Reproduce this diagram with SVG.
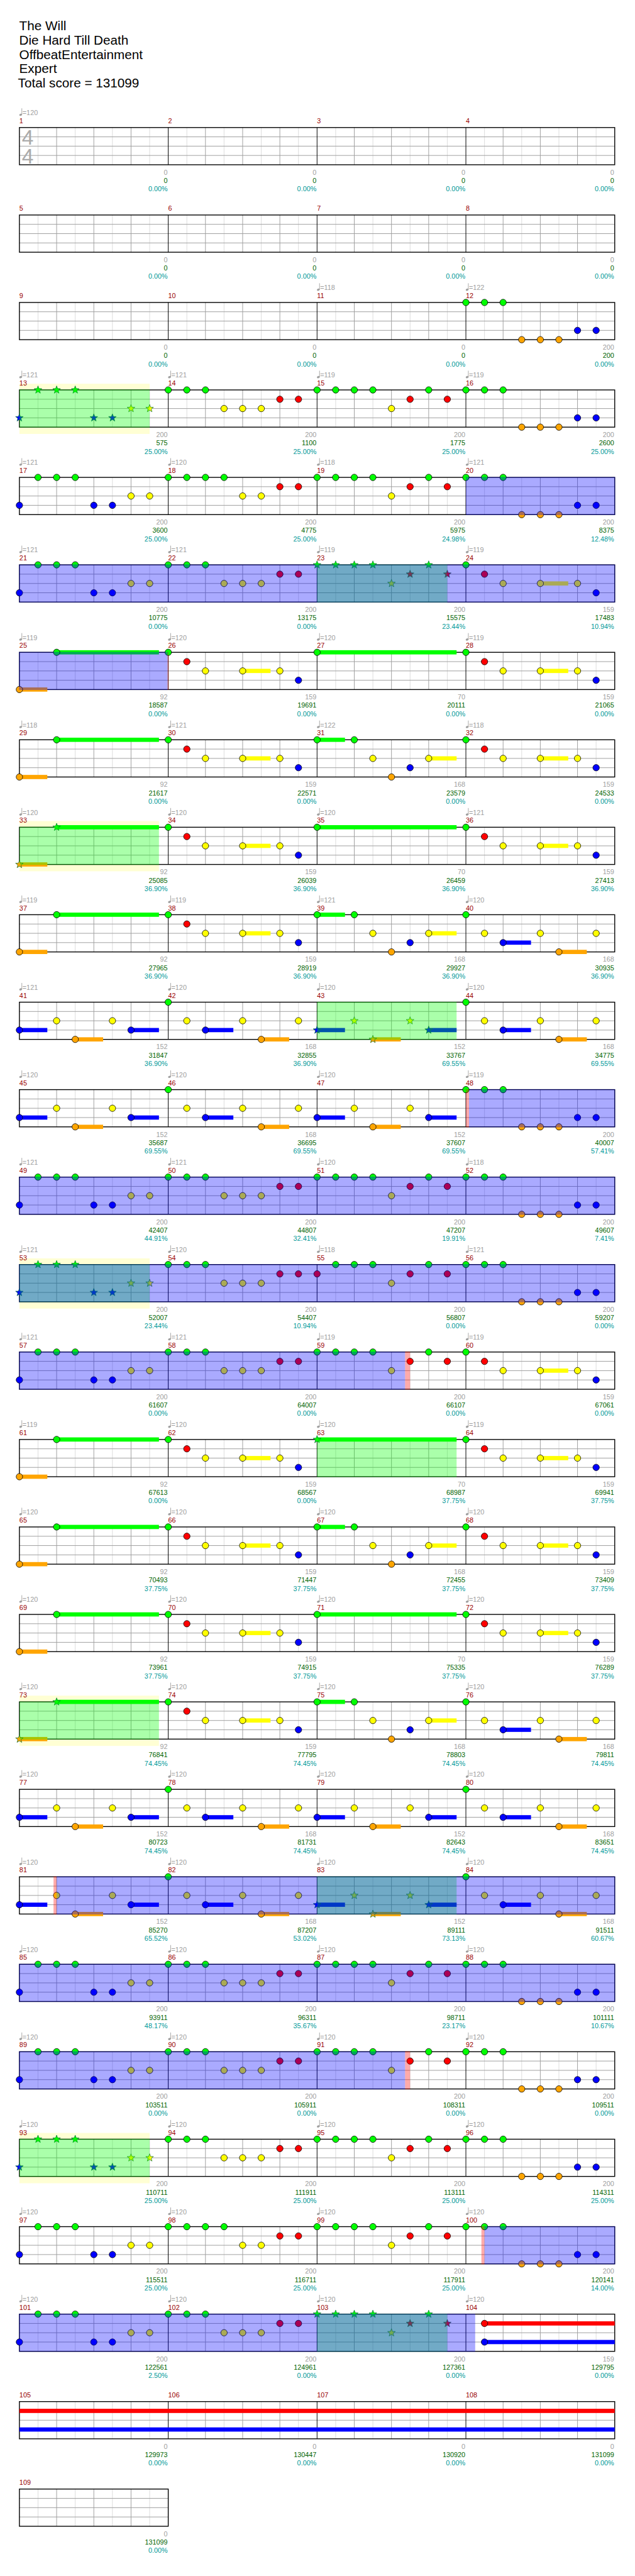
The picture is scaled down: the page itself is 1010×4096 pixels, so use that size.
<svg xmlns="http://www.w3.org/2000/svg" width="1010" height="4096" viewBox="0 0 1010 4096">
<style>
text{font-family:"Liberation Sans",Arial,sans-serif;font-size:11px}
.mn{fill:#990000}
.tp{fill:#a0a0a0}
.s1{fill:#a0a0a0;text-anchor:end}
.s2{fill:#006400;text-anchor:end}
.s3{fill:#009999;text-anchor:end}
.t{font-size:21px;fill:#000}
.ts{font-size:34px;fill:#aaa}
.nt{stroke:#000;stroke-width:.8}
.st{stroke:#063;stroke-width:.7}
.sg{fill:#0f0}.sr{fill:#f00}.sy{fill:#ff0}.sb{fill:#00f}.so{fill:#ffa500}
.ob{fill:#00f;fill-opacity:.333}
.og{fill:#0f0;fill-opacity:.333}
.yb{fill:#ffffd4}
.pk{fill:#f00;fill-opacity:.333}
</style>
<defs>
<g id="grid">
<rect width="960" height="60" fill="#fff"/>
<path d="M30 0V60M90 0V60M150 0V60M210 0V60M270 0V60M330 0V60M390 0V60M450 0V60M510 0V60M570 0V60M630 0V60M690 0V60M750 0V60M810 0V60M870 0V60M930 0V60" stroke="#dcdcdc"/>
<path d="M60 0V60M120 0V60M180 0V60M300 0V60M360 0V60M420 0V60M540 0V60M600 0V60M660 0V60M780 0V60M840 0V60M900 0V60M0 15H960M0 30H960M0 45H960" stroke="#a0a0a0"/>
<path d="M240 0V60M480 0V60M720 0V60" stroke="#000"/>
<rect width="960" height="60" fill="none" stroke="#000" stroke-width="1.4"/>
</g>
<g id="grid1">
<rect width="240" height="60" fill="#fff"/>
<path d="M30 0V60M90 0V60M150 0V60M210 0V60" stroke="#dcdcdc"/>
<path d="M60 0V60M120 0V60M180 0V60M0 15H240M0 30H240M0 45H240" stroke="#a0a0a0"/>
<rect width="240" height="60" fill="none" stroke="#000" stroke-width="1.4"/>
</g>
<g id="tq" fill="#a0a0a0"><ellipse cx="2" cy="-20.6" rx="2.3" ry="1.7" transform="rotate(-20 2 -20.6)"/><rect x="3.5" y="-31" width="0.9" height="10.4"/></g>
<circle id="G" r="5.2" class="nt" fill="#0f0"/>
<circle id="R" cy="15" r="5.2" class="nt" fill="#f00"/>
<circle id="Y" cy="30" r="5.2" class="nt" fill="#ff0"/>
<circle id="B" cy="45" r="5.2" class="nt" fill="#00f"/>
<circle id="O" cy="60" r="5.2" class="nt" fill="#ffa500"/>
<polygon id="SG" class="st" fill="#0f0" points="0,-6.5 1.6,-2.2 6.2,-2 2.6,0.85 3.8,5.3 0,2.75 -3.8,5.3 -2.6,0.85 -6.2,-2 -1.6,-2.2"/>
<polygon id="SR" class="st" fill="#f00" transform="translate(0,15)" points="0,-6.5 1.6,-2.2 6.2,-2 2.6,0.85 3.8,5.3 0,2.75 -3.8,5.3 -2.6,0.85 -6.2,-2 -1.6,-2.2"/>
<polygon id="SY" class="st" fill="#ff0" transform="translate(0,30)" points="0,-6.5 1.6,-2.2 6.2,-2 2.6,0.85 3.8,5.3 0,2.75 -3.8,5.3 -2.6,0.85 -6.2,-2 -1.6,-2.2"/>
<polygon id="SB" class="st" fill="#00f" transform="translate(0,45)" points="0,-6.5 1.6,-2.2 6.2,-2 2.6,0.85 3.8,5.3 0,2.75 -3.8,5.3 -2.6,0.85 -6.2,-2 -1.6,-2.2"/>
<polygon id="SO" class="st" fill="#ffa500" transform="translate(0,60)" points="0,-6.5 1.6,-2.2 6.2,-2 2.6,0.85 3.8,5.3 0,2.75 -3.8,5.3 -2.6,0.85 -6.2,-2 -1.6,-2.2"/>
<g id="P1"><use href="#B"/><use href="#G" x="30"/><use href="#G" x="60"/><use href="#G" x="90"/><use href="#B" x="120"/><use href="#B" x="150"/><use href="#Y" x="180"/><use href="#Y" x="210"/></g>
<g id="P1s"><use href="#SB"/><use href="#SG" x="30"/><use href="#SG" x="60"/><use href="#SG" x="90"/><use href="#SB" x="120"/><use href="#SB" x="150"/><use href="#SY" x="180"/><use href="#SY" x="210"/></g>
<g id="M2a"><use href="#G"/><use href="#G" x="30"/><use href="#G" x="60"/><use href="#Y" x="90"/><use href="#Y" x="120"/><use href="#Y" x="150"/><use href="#R" x="180"/><use href="#R" x="210"/></g>
<g id="M2b"><use href="#G"/><use href="#G" x="30"/><use href="#G" x="60"/><use href="#G" x="90"/><use href="#Y" x="120"/><use href="#Y" x="150"/><use href="#R" x="180"/><use href="#R" x="210"/></g>
<g id="M3"><use href="#G"/><use href="#G" x="30"/><use href="#G" x="60"/><use href="#G" x="90"/><use href="#Y" x="120"/><use href="#R" x="150"/><use href="#G" x="180"/><use href="#R" x="210"/></g>
<g id="M3s"><use href="#SG"/><use href="#SG" x="30"/><use href="#SG" x="60"/><use href="#SG" x="90"/><use href="#SY" x="120"/><use href="#SR" x="150"/><use href="#SG" x="180"/><use href="#SR" x="210"/></g>
<g id="M3r"><use href="#R"/><use href="#G" x="30"/><use href="#G" x="60"/><use href="#G" x="90"/><use href="#Y" x="120"/><use href="#R" x="150"/><use href="#G" x="180"/><use href="#R" x="210"/></g>
<g id="M4"><use href="#G"/><use href="#G" x="30"/><use href="#G" x="60"/><use href="#O" x="90"/><use href="#O" x="120"/><use href="#O" x="150"/><use href="#B" x="180"/><use href="#B" x="210"/></g>
<g id="K1"><rect class="so" x="0" y="56.6" width="45" height="6.8"/><rect class="sg" x="60" y="-3.4" width="165" height="6.8"/><use href="#O"/><use href="#G" x="60"/></g>
<g id="K1s"><rect class="so" x="0" y="56.6" width="45" height="6.8"/><rect class="sg" x="60" y="-3.4" width="165" height="6.8"/><use href="#SO"/><use href="#SG" x="60"/></g>
<g id="K2"><rect class="sy" x="120" y="26.6" width="45" height="6.8"/><use href="#G"/><use href="#R" x="30"/><use href="#Y" x="60"/><use href="#Y" x="120"/><use href="#Y" x="180"/><use href="#B" x="210"/></g>
<g id="K3"><rect class="sg" x="0" y="-3.4" width="225" height="6.8"/><use href="#G"/></g>
<g id="K3s"><rect class="sg" x="0" y="-3.4" width="225" height="6.8"/><use href="#SG"/></g>
<g id="K4"><rect class="sg" x="0" y="-3.4" width="45" height="6.8"/><rect class="sy" x="180" y="26.6" width="45" height="6.8"/><use href="#G"/><use href="#G" x="60"/><use href="#Y" x="90"/><use href="#O" x="120"/><use href="#B" x="150"/><use href="#Y" x="180"/></g>
<g id="K5"><rect class="sb" x="60" y="41.6" width="45" height="6.8"/><rect class="so" x="150" y="56.6" width="45" height="6.8"/><use href="#G"/><use href="#Y" x="30"/><use href="#B" x="60"/><use href="#Y" x="120"/><use href="#O" x="150"/><use href="#Y" x="210"/></g>
<g id="L1"><rect class="sb" x="0" y="41.6" width="45" height="6.8"/><rect class="so" x="90" y="56.6" width="45" height="6.8"/><rect class="sb" x="180" y="41.6" width="45" height="6.8"/><use href="#B"/><use href="#Y" x="60"/><use href="#O" x="90"/><use href="#Y" x="150"/><use href="#B" x="180"/></g>
<g id="L1s"><rect class="sb" x="0" y="41.6" width="45" height="6.8"/><rect class="so" x="90" y="56.6" width="45" height="6.8"/><rect class="sb" x="180" y="41.6" width="45" height="6.8"/><use href="#SB"/><use href="#SY" x="60"/><use href="#SO" x="90"/><use href="#SY" x="150"/><use href="#SB" x="180"/></g>
</defs>
<rect width="1010" height="4096" fill="#fff"/>
<g transform="scale(0.98633)">
<g id="title">
<text class="t" x="31" y="49">The Will</text>
<text class="t" x="31" y="72">Die Hard Till Death</text>
<text class="t" x="31" y="95">OffbeatEntertainment</text>
<text class="t" x="31" y="118">Expert</text>
<text class="t" x="29" y="141">Total score = 131099</text>
</g>

<g id="row1" transform="translate(31.3,205.6)">
<use href="#grid"/>
<text class="ts" x="4" y="27.7">4</text><text class="ts" x="4" y="57.7">4</text>
<use href="#tq"/><text class="tp" x="5" y="-20">=120</text>
<text class="mn" x="0" y="-7">1</text><text class="mn" x="240" y="-7">2</text><text class="mn" x="480" y="-7">3</text><text class="mn" x="720" y="-7">4</text>
<text class="s1" x="239" y="76">0</text><text class="s2" x="239" y="89.5">0</text><text class="s3" x="239" y="103">0.00%</text>
<text class="s1" x="479" y="76">0</text><text class="s2" x="479" y="89.5">0</text><text class="s3" x="479" y="103">0.00%</text>
<text class="s1" x="719" y="76">0</text><text class="s2" x="719" y="89.5">0</text><text class="s3" x="719" y="103">0.00%</text>
<text class="s1" x="959" y="76">0</text><text class="s2" x="959" y="89.5">0</text><text class="s3" x="959" y="103">0.00%</text>
</g>

<g id="row2" transform="translate(31.3,346.6)">
<use href="#grid"/>
<text class="mn" x="0" y="-7">5</text><text class="mn" x="240" y="-7">6</text><text class="mn" x="480" y="-7">7</text><text class="mn" x="720" y="-7">8</text>
<text class="s1" x="239" y="76">0</text><text class="s2" x="239" y="89.5">0</text><text class="s3" x="239" y="103">0.00%</text>
<text class="s1" x="479" y="76">0</text><text class="s2" x="479" y="89.5">0</text><text class="s3" x="479" y="103">0.00%</text>
<text class="s1" x="719" y="76">0</text><text class="s2" x="719" y="89.5">0</text><text class="s3" x="719" y="103">0.00%</text>
<text class="s1" x="959" y="76">0</text><text class="s2" x="959" y="89.5">0</text><text class="s3" x="959" y="103">0.00%</text>
</g>

<g id="row3" transform="translate(31.3,487.6)">
<use href="#grid"/>
<use href="#M4" x="720"/>
<use href="#tq" x="480"/><text class="tp" x="485" y="-20">=118</text>
<use href="#tq" x="720"/><text class="tp" x="725" y="-20">=122</text>
<text class="mn" x="0" y="-7">9</text><text class="mn" x="240" y="-7">10</text><text class="mn" x="480" y="-7">11</text><text class="mn" x="720" y="-7">12</text>
<text class="s1" x="239" y="76">0</text><text class="s2" x="239" y="89.5">0</text><text class="s3" x="239" y="103">0.00%</text>
<text class="s1" x="479" y="76">0</text><text class="s2" x="479" y="89.5">0</text><text class="s3" x="479" y="103">0.00%</text>
<text class="s1" x="719" y="76">0</text><text class="s2" x="719" y="89.5">0</text><text class="s3" x="719" y="103">0.00%</text>
<text class="s1" x="959" y="76">200</text><text class="s2" x="959" y="89.5">200</text><text class="s3" x="959" y="103">0.00%</text>
</g>

<g id="row4" transform="translate(31.3,628.6)">
<rect class="yb" x="0" y="-10" width="210" height="81"/>
<use href="#grid"/>
<use href="#P1s"/><use href="#M2a" x="240"/><use href="#M3" x="480"/><use href="#M4" x="720"/>
<rect class="og" x="0" y="-0.7" width="210" height="61.4"/>
<use href="#tq"/><text class="tp" x="5" y="-20">=121</text>
<use href="#tq" x="240"/><text class="tp" x="245" y="-20">=121</text>
<use href="#tq" x="480"/><text class="tp" x="485" y="-20">=119</text>
<use href="#tq" x="720"/><text class="tp" x="725" y="-20">=119</text>
<text class="mn" x="0" y="-7">13</text><text class="mn" x="240" y="-7">14</text><text class="mn" x="480" y="-7">15</text><text class="mn" x="720" y="-7">16</text>
<text class="s1" x="239" y="76">200</text><text class="s2" x="239" y="89.5">575</text><text class="s3" x="239" y="103">25.00%</text>
<text class="s1" x="479" y="76">200</text><text class="s2" x="479" y="89.5">1100</text><text class="s3" x="479" y="103">25.00%</text>
<text class="s1" x="719" y="76">200</text><text class="s2" x="719" y="89.5">1775</text><text class="s3" x="719" y="103">25.00%</text>
<text class="s1" x="959" y="76">200</text><text class="s2" x="959" y="89.5">2600</text><text class="s3" x="959" y="103">25.00%</text>
</g>

<g id="row5" transform="translate(31.3,769.6)">
<use href="#grid"/>
<use href="#P1"/><use href="#M2b" x="240"/><use href="#M3" x="480"/><use href="#M4" x="720"/>
<rect class="ob" x="720" y="-0.7" width="240.7" height="61.4"/>
<use href="#tq"/><text class="tp" x="5" y="-20">=121</text>
<use href="#tq" x="240"/><text class="tp" x="245" y="-20">=120</text>
<use href="#tq" x="480"/><text class="tp" x="485" y="-20">=118</text>
<use href="#tq" x="720"/><text class="tp" x="725" y="-20">=121</text>
<text class="mn" x="0" y="-7">17</text><text class="mn" x="240" y="-7">18</text><text class="mn" x="480" y="-7">19</text><text class="mn" x="720" y="-7">20</text>
<text class="s1" x="239" y="76">200</text><text class="s2" x="239" y="89.5">3600</text><text class="s3" x="239" y="103">25.00%</text>
<text class="s1" x="479" y="76">200</text><text class="s2" x="479" y="89.5">4775</text><text class="s3" x="479" y="103">25.00%</text>
<text class="s1" x="719" y="76">200</text><text class="s2" x="719" y="89.5">5975</text><text class="s3" x="719" y="103">24.98%</text>
<text class="s1" x="959" y="76">200</text><text class="s2" x="959" y="89.5">8375</text><text class="s3" x="959" y="103">12.48%</text>
</g>

<g id="row6" transform="translate(31.3,910.6)">
<use href="#grid"/>
<use href="#P1"/><use href="#M2a" x="240"/><use href="#M3s" x="480"/><use href="#K2" x="720"/>
<rect class="og" x="480" y="-0.7" width="210" height="61.4"/>
<rect class="ob" x="-0.7" y="-0.7" width="961.4" height="61.4"/>
<use href="#tq"/><text class="tp" x="5" y="-20">=121</text>
<use href="#tq" x="240"/><text class="tp" x="245" y="-20">=121</text>
<use href="#tq" x="480"/><text class="tp" x="485" y="-20">=119</text>
<use href="#tq" x="720"/><text class="tp" x="725" y="-20">=119</text>
<text class="mn" x="0" y="-7">21</text><text class="mn" x="240" y="-7">22</text><text class="mn" x="480" y="-7">23</text><text class="mn" x="720" y="-7">24</text>
<text class="s1" x="239" y="76">200</text><text class="s2" x="239" y="89.5">10775</text><text class="s3" x="239" y="103">0.00%</text>
<text class="s1" x="479" y="76">200</text><text class="s2" x="479" y="89.5">13175</text><text class="s3" x="479" y="103">0.00%</text>
<text class="s1" x="719" y="76">200</text><text class="s2" x="719" y="89.5">15575</text><text class="s3" x="719" y="103">23.44%</text>
<text class="s1" x="959" y="76">159</text><text class="s2" x="959" y="89.5">17483</text><text class="s3" x="959" y="103">10.94%</text>
</g>

<g id="row7" transform="translate(31.3,1051.6)">
<use href="#grid"/>
<use href="#K1"/><use href="#K2" x="240"/><use href="#K3" x="480"/><use href="#K2" x="720"/>
<rect class="ob" x="-0.7" y="-0.7" width="239.7" height="61.4"/>
<rect class="pk" x="239" y="-0.7" width="1.5" height="61.4"/>
<use href="#tq"/><text class="tp" x="5" y="-20">=119</text>
<use href="#tq" x="240"/><text class="tp" x="245" y="-20">=120</text>
<use href="#tq" x="480"/><text class="tp" x="485" y="-20">=120</text>
<use href="#tq" x="720"/><text class="tp" x="725" y="-20">=119</text>
<text class="mn" x="0" y="-7">25</text><text class="mn" x="240" y="-7">26</text><text class="mn" x="480" y="-7">27</text><text class="mn" x="720" y="-7">28</text>
<text class="s1" x="239" y="76">92</text><text class="s2" x="239" y="89.5">18587</text><text class="s3" x="239" y="103">0.00%</text>
<text class="s1" x="479" y="76">159</text><text class="s2" x="479" y="89.5">19691</text><text class="s3" x="479" y="103">0.00%</text>
<text class="s1" x="719" y="76">70</text><text class="s2" x="719" y="89.5">20111</text><text class="s3" x="719" y="103">0.00%</text>
<text class="s1" x="959" y="76">159</text><text class="s2" x="959" y="89.5">21065</text><text class="s3" x="959" y="103">0.00%</text>
</g>

<g id="row8" transform="translate(31.3,1192.6)">
<use href="#grid"/>
<use href="#K1"/><use href="#K2" x="240"/><use href="#K4" x="480"/><use href="#K2" x="720"/>
<use href="#tq"/><text class="tp" x="5" y="-20">=118</text>
<use href="#tq" x="240"/><text class="tp" x="245" y="-20">=121</text>
<use href="#tq" x="480"/><text class="tp" x="485" y="-20">=122</text>
<use href="#tq" x="720"/><text class="tp" x="725" y="-20">=118</text>
<text class="mn" x="0" y="-7">29</text><text class="mn" x="240" y="-7">30</text><text class="mn" x="480" y="-7">31</text><text class="mn" x="720" y="-7">32</text>
<text class="s1" x="239" y="76">92</text><text class="s2" x="239" y="89.5">21617</text><text class="s3" x="239" y="103">0.00%</text>
<text class="s1" x="479" y="76">159</text><text class="s2" x="479" y="89.5">22571</text><text class="s3" x="479" y="103">0.00%</text>
<text class="s1" x="719" y="76">168</text><text class="s2" x="719" y="89.5">23579</text><text class="s3" x="719" y="103">0.00%</text>
<text class="s1" x="959" y="76">159</text><text class="s2" x="959" y="89.5">24533</text><text class="s3" x="959" y="103">0.00%</text>
</g>

<g id="row9" transform="translate(31.3,1333.6)">
<rect class="yb" x="0" y="-10" width="225" height="81"/>
<use href="#grid"/>
<use href="#K1s"/><use href="#K2" x="240"/><use href="#K3" x="480"/><use href="#K2" x="720"/>
<rect class="og" x="0" y="-0.7" width="225" height="61.4"/>
<use href="#tq"/><text class="tp" x="5" y="-20">=120</text>
<use href="#tq" x="240"/><text class="tp" x="245" y="-20">=120</text>
<use href="#tq" x="480"/><text class="tp" x="485" y="-20">=120</text>
<use href="#tq" x="720"/><text class="tp" x="725" y="-20">=121</text>
<text class="mn" x="0" y="-7">33</text><text class="mn" x="240" y="-7">34</text><text class="mn" x="480" y="-7">35</text><text class="mn" x="720" y="-7">36</text>
<text class="s1" x="239" y="76">92</text><text class="s2" x="239" y="89.5">25085</text><text class="s3" x="239" y="103">36.90%</text>
<text class="s1" x="479" y="76">159</text><text class="s2" x="479" y="89.5">26039</text><text class="s3" x="479" y="103">36.90%</text>
<text class="s1" x="719" y="76">70</text><text class="s2" x="719" y="89.5">26459</text><text class="s3" x="719" y="103">36.90%</text>
<text class="s1" x="959" y="76">159</text><text class="s2" x="959" y="89.5">27413</text><text class="s3" x="959" y="103">36.90%</text>
</g>

<g id="row10" transform="translate(31.3,1474.6)">
<use href="#grid"/>
<use href="#K1"/><use href="#K2" x="240"/><use href="#K4" x="480"/><use href="#K5" x="720"/>
<use href="#tq"/><text class="tp" x="5" y="-20">=119</text>
<use href="#tq" x="240"/><text class="tp" x="245" y="-20">=119</text>
<use href="#tq" x="480"/><text class="tp" x="485" y="-20">=121</text>
<use href="#tq" x="720"/><text class="tp" x="725" y="-20">=120</text>
<text class="mn" x="0" y="-7">37</text><text class="mn" x="240" y="-7">38</text><text class="mn" x="480" y="-7">39</text><text class="mn" x="720" y="-7">40</text>
<text class="s1" x="239" y="76">92</text><text class="s2" x="239" y="89.5">27965</text><text class="s3" x="239" y="103">36.90%</text>
<text class="s1" x="479" y="76">159</text><text class="s2" x="479" y="89.5">28919</text><text class="s3" x="479" y="103">36.90%</text>
<text class="s1" x="719" y="76">168</text><text class="s2" x="719" y="89.5">29927</text><text class="s3" x="719" y="103">36.90%</text>
<text class="s1" x="959" y="76">168</text><text class="s2" x="959" y="89.5">30935</text><text class="s3" x="959" y="103">36.90%</text>
</g>

<g id="row11" transform="translate(31.3,1615.6)">
<use href="#grid"/>
<use href="#L1"/><use href="#K5" x="240"/><use href="#L1s" x="480"/><use href="#K5" x="720"/>
<rect class="og" x="480" y="-0.7" width="225" height="61.4"/>
<use href="#tq"/><text class="tp" x="5" y="-20">=121</text>
<use href="#tq" x="240"/><text class="tp" x="245" y="-20">=120</text>
<use href="#tq" x="480"/><text class="tp" x="485" y="-20">=120</text>
<use href="#tq" x="720"/><text class="tp" x="725" y="-20">=120</text>
<text class="mn" x="0" y="-7">41</text><text class="mn" x="240" y="-7">42</text><text class="mn" x="480" y="-7">43</text><text class="mn" x="720" y="-7">44</text>
<text class="s1" x="239" y="76">152</text><text class="s2" x="239" y="89.5">31847</text><text class="s3" x="239" y="103">36.90%</text>
<text class="s1" x="479" y="76">168</text><text class="s2" x="479" y="89.5">32855</text><text class="s3" x="479" y="103">36.90%</text>
<text class="s1" x="719" y="76">152</text><text class="s2" x="719" y="89.5">33767</text><text class="s3" x="719" y="103">69.55%</text>
<text class="s1" x="959" y="76">168</text><text class="s2" x="959" y="89.5">34775</text><text class="s3" x="959" y="103">69.55%</text>
</g>

<g id="row12" transform="translate(31.3,1756.6)">
<use href="#grid"/>
<use href="#L1"/><use href="#K5" x="240"/><use href="#L1" x="480"/><use href="#M4" x="720"/>
<rect class="pk" x="720" y="-0.7" width="5" height="61.4"/>
<rect class="ob" x="725" y="-0.7" width="235.7" height="61.4"/>
<use href="#tq"/><text class="tp" x="5" y="-20">=120</text>
<use href="#tq" x="240"/><text class="tp" x="245" y="-20">=120</text>
<use href="#tq" x="480"/><text class="tp" x="485" y="-20">=120</text>
<use href="#tq" x="720"/><text class="tp" x="725" y="-20">=119</text>
<text class="mn" x="0" y="-7">45</text><text class="mn" x="240" y="-7">46</text><text class="mn" x="480" y="-7">47</text><text class="mn" x="720" y="-7">48</text>
<text class="s1" x="239" y="76">152</text><text class="s2" x="239" y="89.5">35687</text><text class="s3" x="239" y="103">69.55%</text>
<text class="s1" x="479" y="76">168</text><text class="s2" x="479" y="89.5">36695</text><text class="s3" x="479" y="103">69.55%</text>
<text class="s1" x="719" y="76">152</text><text class="s2" x="719" y="89.5">37607</text><text class="s3" x="719" y="103">69.55%</text>
<text class="s1" x="959" y="76">200</text><text class="s2" x="959" y="89.5">40007</text><text class="s3" x="959" y="103">57.41%</text>
</g>

<g id="row13" transform="translate(31.3,1897.6)">
<use href="#grid"/>
<use href="#P1"/><use href="#M2a" x="240"/><use href="#M3" x="480"/><use href="#M4" x="720"/>
<rect class="ob" x="-0.7" y="-0.7" width="961.4" height="61.4"/>
<use href="#tq"/><text class="tp" x="5" y="-20">=121</text>
<use href="#tq" x="240"/><text class="tp" x="245" y="-20">=121</text>
<use href="#tq" x="480"/><text class="tp" x="485" y="-20">=120</text>
<use href="#tq" x="720"/><text class="tp" x="725" y="-20">=118</text>
<text class="mn" x="0" y="-7">49</text><text class="mn" x="240" y="-7">50</text><text class="mn" x="480" y="-7">51</text><text class="mn" x="720" y="-7">52</text>
<text class="s1" x="239" y="76">200</text><text class="s2" x="239" y="89.5">42407</text><text class="s3" x="239" y="103">44.91%</text>
<text class="s1" x="479" y="76">200</text><text class="s2" x="479" y="89.5">44807</text><text class="s3" x="479" y="103">32.41%</text>
<text class="s1" x="719" y="76">200</text><text class="s2" x="719" y="89.5">47207</text><text class="s3" x="719" y="103">19.91%</text>
<text class="s1" x="959" y="76">200</text><text class="s2" x="959" y="89.5">49607</text><text class="s3" x="959" y="103">7.41%</text>
</g>

<g id="row14" transform="translate(31.3,2038.6)">
<rect class="yb" x="0" y="-10" width="210" height="81"/>
<use href="#grid"/>
<use href="#P1s"/><use href="#M2a" x="240"/><use href="#M3r" x="480"/><use href="#M4" x="720"/>
<rect class="og" x="0" y="-0.7" width="210" height="61.4"/>
<rect class="ob" x="-0.7" y="-0.7" width="961.4" height="61.4"/>
<use href="#tq"/><text class="tp" x="5" y="-20">=121</text>
<use href="#tq" x="240"/><text class="tp" x="245" y="-20">=120</text>
<use href="#tq" x="480"/><text class="tp" x="485" y="-20">=118</text>
<use href="#tq" x="720"/><text class="tp" x="725" y="-20">=121</text>
<text class="mn" x="0" y="-7">53</text><text class="mn" x="240" y="-7">54</text><text class="mn" x="480" y="-7">55</text><text class="mn" x="720" y="-7">56</text>
<text class="s1" x="239" y="76">200</text><text class="s2" x="239" y="89.5">52007</text><text class="s3" x="239" y="103">23.44%</text>
<text class="s1" x="479" y="76">200</text><text class="s2" x="479" y="89.5">54407</text><text class="s3" x="479" y="103">10.94%</text>
<text class="s1" x="719" y="76">200</text><text class="s2" x="719" y="89.5">56807</text><text class="s3" x="719" y="103">0.00%</text>
<text class="s1" x="959" y="76">200</text><text class="s2" x="959" y="89.5">59207</text><text class="s3" x="959" y="103">0.00%</text>
</g>

<g id="row15" transform="translate(31.3,2179.6)">
<use href="#grid"/>
<use href="#P1"/><use href="#M2a" x="240"/><use href="#M3" x="480"/><use href="#K2" x="720"/>
<rect class="ob" x="-0.7" y="-0.7" width="622.7" height="61.4"/>
<rect class="pk" x="622" y="-0.7" width="8" height="61.4"/>
<use href="#tq"/><text class="tp" x="5" y="-20">=121</text>
<use href="#tq" x="240"/><text class="tp" x="245" y="-20">=121</text>
<use href="#tq" x="480"/><text class="tp" x="485" y="-20">=119</text>
<use href="#tq" x="720"/><text class="tp" x="725" y="-20">=119</text>
<text class="mn" x="0" y="-7">57</text><text class="mn" x="240" y="-7">58</text><text class="mn" x="480" y="-7">59</text><text class="mn" x="720" y="-7">60</text>
<text class="s1" x="239" y="76">200</text><text class="s2" x="239" y="89.5">61607</text><text class="s3" x="239" y="103">0.00%</text>
<text class="s1" x="479" y="76">200</text><text class="s2" x="479" y="89.5">64007</text><text class="s3" x="479" y="103">0.00%</text>
<text class="s1" x="719" y="76">200</text><text class="s2" x="719" y="89.5">66107</text><text class="s3" x="719" y="103">0.00%</text>
<text class="s1" x="959" y="76">159</text><text class="s2" x="959" y="89.5">67061</text><text class="s3" x="959" y="103">0.00%</text>
</g>

<g id="row16" transform="translate(31.3,2320.6)">
<use href="#grid"/>
<use href="#K1"/><use href="#K2" x="240"/><use href="#K3s" x="480"/><use href="#K2" x="720"/>
<rect class="og" x="480" y="-0.7" width="225" height="61.4"/>
<use href="#tq"/><text class="tp" x="5" y="-20">=119</text>
<use href="#tq" x="240"/><text class="tp" x="245" y="-20">=120</text>
<use href="#tq" x="480"/><text class="tp" x="485" y="-20">=120</text>
<use href="#tq" x="720"/><text class="tp" x="725" y="-20">=119</text>
<text class="mn" x="0" y="-7">61</text><text class="mn" x="240" y="-7">62</text><text class="mn" x="480" y="-7">63</text><text class="mn" x="720" y="-7">64</text>
<text class="s1" x="239" y="76">92</text><text class="s2" x="239" y="89.5">67613</text><text class="s3" x="239" y="103">0.00%</text>
<text class="s1" x="479" y="76">159</text><text class="s2" x="479" y="89.5">68567</text><text class="s3" x="479" y="103">0.00%</text>
<text class="s1" x="719" y="76">70</text><text class="s2" x="719" y="89.5">68987</text><text class="s3" x="719" y="103">37.75%</text>
<text class="s1" x="959" y="76">159</text><text class="s2" x="959" y="89.5">69941</text><text class="s3" x="959" y="103">37.75%</text>
</g>

<g id="row17" transform="translate(31.3,2461.6)">
<use href="#grid"/>
<use href="#K1"/><use href="#K2" x="240"/><use href="#K4" x="480"/><use href="#K2" x="720"/>
<use href="#tq"/><text class="tp" x="5" y="-20">=120</text>
<use href="#tq" x="240"/><text class="tp" x="245" y="-20">=120</text>
<use href="#tq" x="480"/><text class="tp" x="485" y="-20">=120</text>
<use href="#tq" x="720"/><text class="tp" x="725" y="-20">=120</text>
<text class="mn" x="0" y="-7">65</text><text class="mn" x="240" y="-7">66</text><text class="mn" x="480" y="-7">67</text><text class="mn" x="720" y="-7">68</text>
<text class="s1" x="239" y="76">92</text><text class="s2" x="239" y="89.5">70493</text><text class="s3" x="239" y="103">37.75%</text>
<text class="s1" x="479" y="76">159</text><text class="s2" x="479" y="89.5">71447</text><text class="s3" x="479" y="103">37.75%</text>
<text class="s1" x="719" y="76">168</text><text class="s2" x="719" y="89.5">72455</text><text class="s3" x="719" y="103">37.75%</text>
<text class="s1" x="959" y="76">159</text><text class="s2" x="959" y="89.5">73409</text><text class="s3" x="959" y="103">37.75%</text>
</g>

<g id="row18" transform="translate(31.3,2602.6)">
<use href="#grid"/>
<use href="#K1"/><use href="#K2" x="240"/><use href="#K3" x="480"/><use href="#K2" x="720"/>
<use href="#tq"/><text class="tp" x="5" y="-20">=120</text>
<use href="#tq" x="240"/><text class="tp" x="245" y="-20">=120</text>
<use href="#tq" x="480"/><text class="tp" x="485" y="-20">=120</text>
<use href="#tq" x="720"/><text class="tp" x="725" y="-20">=120</text>
<text class="mn" x="0" y="-7">69</text><text class="mn" x="240" y="-7">70</text><text class="mn" x="480" y="-7">71</text><text class="mn" x="720" y="-7">72</text>
<text class="s1" x="239" y="76">92</text><text class="s2" x="239" y="89.5">73961</text><text class="s3" x="239" y="103">37.75%</text>
<text class="s1" x="479" y="76">159</text><text class="s2" x="479" y="89.5">74915</text><text class="s3" x="479" y="103">37.75%</text>
<text class="s1" x="719" y="76">70</text><text class="s2" x="719" y="89.5">75335</text><text class="s3" x="719" y="103">37.75%</text>
<text class="s1" x="959" y="76">159</text><text class="s2" x="959" y="89.5">76289</text><text class="s3" x="959" y="103">37.75%</text>
</g>

<g id="row19" transform="translate(31.3,2743.6)">
<rect class="yb" x="0" y="-10" width="225" height="81"/>
<use href="#grid"/>
<use href="#K1s"/><use href="#K2" x="240"/><use href="#K4" x="480"/><use href="#K5" x="720"/>
<rect class="og" x="0" y="-0.7" width="225" height="61.4"/>
<use href="#tq"/><text class="tp" x="5" y="-20">=120</text>
<use href="#tq" x="240"/><text class="tp" x="245" y="-20">=120</text>
<use href="#tq" x="480"/><text class="tp" x="485" y="-20">=120</text>
<use href="#tq" x="720"/><text class="tp" x="725" y="-20">=120</text>
<text class="mn" x="0" y="-7">73</text><text class="mn" x="240" y="-7">74</text><text class="mn" x="480" y="-7">75</text><text class="mn" x="720" y="-7">76</text>
<text class="s1" x="239" y="76">92</text><text class="s2" x="239" y="89.5">76841</text><text class="s3" x="239" y="103">74.45%</text>
<text class="s1" x="479" y="76">159</text><text class="s2" x="479" y="89.5">77795</text><text class="s3" x="479" y="103">74.45%</text>
<text class="s1" x="719" y="76">168</text><text class="s2" x="719" y="89.5">78803</text><text class="s3" x="719" y="103">74.45%</text>
<text class="s1" x="959" y="76">168</text><text class="s2" x="959" y="89.5">79811</text><text class="s3" x="959" y="103">74.45%</text>
</g>

<g id="row20" transform="translate(31.3,2884.6)">
<use href="#grid"/>
<use href="#L1"/><use href="#K5" x="240"/><use href="#L1" x="480"/><use href="#K5" x="720"/>
<use href="#tq"/><text class="tp" x="5" y="-20">=120</text>
<use href="#tq" x="240"/><text class="tp" x="245" y="-20">=120</text>
<use href="#tq" x="480"/><text class="tp" x="485" y="-20">=120</text>
<use href="#tq" x="720"/><text class="tp" x="725" y="-20">=120</text>
<text class="mn" x="0" y="-7">77</text><text class="mn" x="240" y="-7">78</text><text class="mn" x="480" y="-7">79</text><text class="mn" x="720" y="-7">80</text>
<text class="s1" x="239" y="76">152</text><text class="s2" x="239" y="89.5">80723</text><text class="s3" x="239" y="103">74.45%</text>
<text class="s1" x="479" y="76">168</text><text class="s2" x="479" y="89.5">81731</text><text class="s3" x="479" y="103">74.45%</text>
<text class="s1" x="719" y="76">152</text><text class="s2" x="719" y="89.5">82643</text><text class="s3" x="719" y="103">74.45%</text>
<text class="s1" x="959" y="76">168</text><text class="s2" x="959" y="89.5">83651</text><text class="s3" x="959" y="103">74.45%</text>
</g>

<g id="row21" transform="translate(31.3,3025.6)">
<use href="#grid"/>
<use href="#L1"/><use href="#K5" x="240"/><use href="#L1s" x="480"/><use href="#K5" x="720"/>
<rect class="og" x="480" y="-0.7" width="225" height="61.4"/>
<rect class="pk" x="55" y="-0.7" width="5" height="61.4"/>
<rect class="ob" x="60" y="-0.7" width="900.7" height="61.4"/>
<use href="#tq"/><text class="tp" x="5" y="-20">=120</text>
<use href="#tq" x="240"/><text class="tp" x="245" y="-20">=120</text>
<use href="#tq" x="480"/><text class="tp" x="485" y="-20">=120</text>
<use href="#tq" x="720"/><text class="tp" x="725" y="-20">=120</text>
<text class="mn" x="0" y="-7">81</text><text class="mn" x="240" y="-7">82</text><text class="mn" x="480" y="-7">83</text><text class="mn" x="720" y="-7">84</text>
<text class="s1" x="239" y="76">152</text><text class="s2" x="239" y="89.5">85270</text><text class="s3" x="239" y="103">65.52%</text>
<text class="s1" x="479" y="76">168</text><text class="s2" x="479" y="89.5">87207</text><text class="s3" x="479" y="103">53.02%</text>
<text class="s1" x="719" y="76">152</text><text class="s2" x="719" y="89.5">89111</text><text class="s3" x="719" y="103">73.13%</text>
<text class="s1" x="959" y="76">168</text><text class="s2" x="959" y="89.5">91511</text><text class="s3" x="959" y="103">60.67%</text>
</g>

<g id="row22" transform="translate(31.3,3166.6)">
<use href="#grid"/>
<use href="#P1"/><use href="#M2a" x="240"/><use href="#M3" x="480"/><use href="#M4" x="720"/>
<rect class="ob" x="-0.7" y="-0.7" width="961.4" height="61.4"/>
<use href="#tq"/><text class="tp" x="5" y="-20">=120</text>
<use href="#tq" x="240"/><text class="tp" x="245" y="-20">=120</text>
<use href="#tq" x="480"/><text class="tp" x="485" y="-20">=120</text>
<use href="#tq" x="720"/><text class="tp" x="725" y="-20">=120</text>
<text class="mn" x="0" y="-7">85</text><text class="mn" x="240" y="-7">86</text><text class="mn" x="480" y="-7">87</text><text class="mn" x="720" y="-7">88</text>
<text class="s1" x="239" y="76">200</text><text class="s2" x="239" y="89.5">93911</text><text class="s3" x="239" y="103">48.17%</text>
<text class="s1" x="479" y="76">200</text><text class="s2" x="479" y="89.5">96311</text><text class="s3" x="479" y="103">35.67%</text>
<text class="s1" x="719" y="76">200</text><text class="s2" x="719" y="89.5">98711</text><text class="s3" x="719" y="103">23.17%</text>
<text class="s1" x="959" y="76">200</text><text class="s2" x="959" y="89.5">101111</text><text class="s3" x="959" y="103">10.67%</text>
</g>

<g id="row23" transform="translate(31.3,3307.6)">
<use href="#grid"/>
<use href="#P1"/><use href="#M2a" x="240"/><use href="#M3" x="480"/><use href="#M4" x="720"/>
<rect class="ob" x="-0.7" y="-0.7" width="622.7" height="61.4"/>
<rect class="pk" x="622" y="-0.7" width="8" height="61.4"/>
<use href="#tq"/><text class="tp" x="5" y="-20">=120</text>
<use href="#tq" x="240"/><text class="tp" x="245" y="-20">=120</text>
<use href="#tq" x="480"/><text class="tp" x="485" y="-20">=120</text>
<use href="#tq" x="720"/><text class="tp" x="725" y="-20">=120</text>
<text class="mn" x="0" y="-7">89</text><text class="mn" x="240" y="-7">90</text><text class="mn" x="480" y="-7">91</text><text class="mn" x="720" y="-7">92</text>
<text class="s1" x="239" y="76">200</text><text class="s2" x="239" y="89.5">103511</text><text class="s3" x="239" y="103">0.00%</text>
<text class="s1" x="479" y="76">200</text><text class="s2" x="479" y="89.5">105911</text><text class="s3" x="479" y="103">0.00%</text>
<text class="s1" x="719" y="76">200</text><text class="s2" x="719" y="89.5">108311</text><text class="s3" x="719" y="103">0.00%</text>
<text class="s1" x="959" y="76">200</text><text class="s2" x="959" y="89.5">109511</text><text class="s3" x="959" y="103">0.00%</text>
</g>

<g id="row24" transform="translate(31.3,3448.6)">
<rect class="yb" x="0" y="-10" width="210" height="81"/>
<use href="#grid"/>
<use href="#P1s"/><use href="#M2a" x="240"/><use href="#M3" x="480"/><use href="#M4" x="720"/>
<rect class="og" x="0" y="-0.7" width="210" height="61.4"/>
<use href="#tq"/><text class="tp" x="5" y="-20">=120</text>
<use href="#tq" x="240"/><text class="tp" x="245" y="-20">=120</text>
<use href="#tq" x="480"/><text class="tp" x="485" y="-20">=120</text>
<use href="#tq" x="720"/><text class="tp" x="725" y="-20">=120</text>
<text class="mn" x="0" y="-7">93</text><text class="mn" x="240" y="-7">94</text><text class="mn" x="480" y="-7">95</text><text class="mn" x="720" y="-7">96</text>
<text class="s1" x="239" y="76">200</text><text class="s2" x="239" y="89.5">110711</text><text class="s3" x="239" y="103">25.00%</text>
<text class="s1" x="479" y="76">200</text><text class="s2" x="479" y="89.5">111911</text><text class="s3" x="479" y="103">25.00%</text>
<text class="s1" x="719" y="76">200</text><text class="s2" x="719" y="89.5">113111</text><text class="s3" x="719" y="103">25.00%</text>
<text class="s1" x="959" y="76">200</text><text class="s2" x="959" y="89.5">114311</text><text class="s3" x="959" y="103">25.00%</text>
</g>

<g id="row25" transform="translate(31.3,3589.6)">
<use href="#grid"/>
<use href="#P1"/><use href="#M2b" x="240"/><use href="#M3" x="480"/><use href="#M4" x="720"/>
<rect class="pk" x="745" y="-0.7" width="5" height="61.4"/>
<rect class="ob" x="750" y="-0.7" width="210.7" height="61.4"/>
<use href="#tq"/><text class="tp" x="5" y="-20">=120</text>
<use href="#tq" x="240"/><text class="tp" x="245" y="-20">=120</text>
<use href="#tq" x="480"/><text class="tp" x="485" y="-20">=120</text>
<use href="#tq" x="720"/><text class="tp" x="725" y="-20">=120</text>
<text class="mn" x="0" y="-7">97</text><text class="mn" x="240" y="-7">98</text><text class="mn" x="480" y="-7">99</text><text class="mn" x="720" y="-7">100</text>
<text class="s1" x="239" y="76">200</text><text class="s2" x="239" y="89.5">115511</text><text class="s3" x="239" y="103">25.00%</text>
<text class="s1" x="479" y="76">200</text><text class="s2" x="479" y="89.5">116711</text><text class="s3" x="479" y="103">25.00%</text>
<text class="s1" x="719" y="76">200</text><text class="s2" x="719" y="89.5">117911</text><text class="s3" x="719" y="103">25.00%</text>
<text class="s1" x="959" y="76">200</text><text class="s2" x="959" y="89.5">120141</text><text class="s3" x="959" y="103">14.00%</text>
</g>

<g id="row26" transform="translate(31.3,3730.6)">
<use href="#grid"/>
<use href="#P1"/><use href="#M2a" x="240"/><use href="#M3s" x="480"/>
<rect class="sr" x="750" y="11.6" width="210" height="6.8"/><rect class="sb" x="750" y="41.6" width="210" height="6.8"/>
<use href="#R" x="750"/><use href="#B" x="750"/>
<rect class="og" x="480" y="-0.7" width="210" height="61.4"/>
<rect class="ob" x="-0.7" y="-0.7" width="735.7" height="61.4"/>
<use href="#tq"/><text class="tp" x="5" y="-20">=120</text>
<use href="#tq" x="240"/><text class="tp" x="245" y="-20">=120</text>
<use href="#tq" x="480"/><text class="tp" x="485" y="-20">=120</text>
<use href="#tq" x="720"/><text class="tp" x="725" y="-20">=120</text>
<text class="mn" x="0" y="-7">101</text><text class="mn" x="240" y="-7">102</text><text class="mn" x="480" y="-7">103</text><text class="mn" x="720" y="-7">104</text>
<text class="s1" x="239" y="76">200</text><text class="s2" x="239" y="89.5">122561</text><text class="s3" x="239" y="103">2.50%</text>
<text class="s1" x="479" y="76">200</text><text class="s2" x="479" y="89.5">124961</text><text class="s3" x="479" y="103">0.00%</text>
<text class="s1" x="719" y="76">200</text><text class="s2" x="719" y="89.5">127361</text><text class="s3" x="719" y="103">0.00%</text>
<text class="s1" x="959" y="76">159</text><text class="s2" x="959" y="89.5">129795</text><text class="s3" x="959" y="103">0.00%</text>
</g>

<g id="row27" transform="translate(31.3,3871.6)">
<use href="#grid"/>
<rect class="sr" x="0" y="11.6" width="960" height="6.8"/><rect class="sb" x="0" y="41.6" width="960" height="6.8"/>
<text class="mn" x="0" y="-7">105</text><text class="mn" x="240" y="-7">106</text><text class="mn" x="480" y="-7">107</text><text class="mn" x="720" y="-7">108</text>
<text class="s1" x="239" y="76">0</text><text class="s2" x="239" y="89.5">129973</text><text class="s3" x="239" y="103">0.00%</text>
<text class="s1" x="479" y="76">0</text><text class="s2" x="479" y="89.5">130447</text><text class="s3" x="479" y="103">0.00%</text>
<text class="s1" x="719" y="76">0</text><text class="s2" x="719" y="89.5">130920</text><text class="s3" x="719" y="103">0.00%</text>
<text class="s1" x="959" y="76">0</text><text class="s2" x="959" y="89.5">131099</text><text class="s3" x="959" y="103">0.00%</text>
</g>

<g id="row28" transform="translate(31.3,4012.6)">
<use href="#grid1"/>
<text class="mn" x="0" y="-7">109</text>
<text class="s1" x="239" y="76">0</text><text class="s2" x="239" y="89.5">131099</text><text class="s3" x="239" y="103">0.00%</text>
</g>
</g>
</svg>
